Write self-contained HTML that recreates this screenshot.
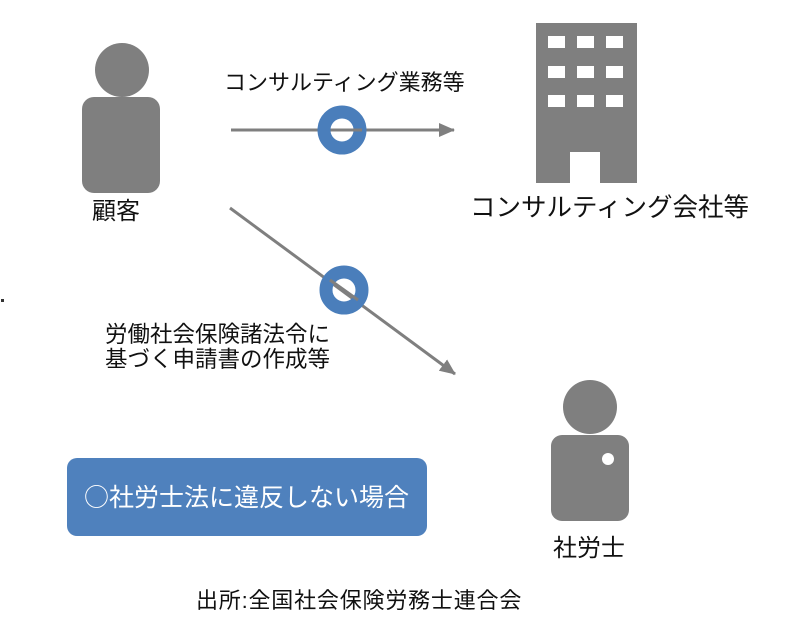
<!DOCTYPE html>
<html><head><meta charset="utf-8"><style>
html,body{margin:0;padding:0;background:#fff;}
body{width:801px;height:628px;position:relative;overflow:hidden;font-family:"Liberation Sans","Noto Sans CJK JP",sans-serif;color:#111;}
.t{position:absolute;white-space:nowrap;line-height:1;}
</style></head><body>
<svg width="801" height="628" style="position:absolute;left:0;top:0">
<defs>
<marker id="ah2" markerWidth="16" markerHeight="14" refX="15" refY="7" orient="auto" markerUnits="userSpaceOnUse"><path d="M0,0 L16,7 L0,14 z" fill="#7f7f7f"/></marker></defs>
<circle cx="122" cy="70" r="27" fill="#7f7f7f"/>
<rect x="82" y="97" width="78" height="96" rx="12" fill="#7f7f7f"/>
<circle cx="590" cy="407" r="27" fill="#7f7f7f"/>
<rect x="551" y="435" width="78" height="86" rx="11" fill="#7f7f7f"/>
<circle cx="608" cy="459" r="6" fill="#fff"/>
<rect x="536" y="23" width="101" height="160" fill="#7f7f7f"/>
<g fill="#fff">
<rect x="548" y="36" width="17" height="12"/><rect x="577" y="36" width="17" height="12"/><rect x="606" y="36" width="17" height="12"/>
<rect x="548" y="66" width="17" height="12"/><rect x="577" y="66" width="17" height="12"/><rect x="606" y="66" width="17" height="12"/>
<rect x="548" y="95" width="17" height="12"/><rect x="577" y="95" width="17" height="12"/><rect x="606" y="95" width="17" height="12"/>
<rect x="570" y="152" width="30" height="31"/>
</g>
<line x1="231" y1="130" x2="454" y2="130" stroke="#7f7f7f" stroke-width="3" marker-end="url(#ah2)"/>
<circle cx="342" cy="130" r="18" fill="none" stroke="#4a7ebb" stroke-width="13"/>
<line x1="334" y1="130" x2="362" y2="130" stroke="#7f7f7f" stroke-width="3"/>
<line x1="230" y1="208" x2="455" y2="374" stroke="#7f7f7f" stroke-width="3" marker-end="url(#ah2)"/>
<circle cx="344" cy="290" r="18" fill="none" stroke="#4a7ebb" stroke-width="13"/>
<line x1="330" y1="280" x2="358" y2="300" stroke="#7f7f7f" stroke-width="3"/>
<rect x="1" y="299" width="3" height="3" fill="#333"/>
<rect x="67" y="458" width="360" height="78" rx="10" fill="#4f81bd"/>
</svg>
<div class="t" style="left:224px;top:72px;font-size:22px;">コンサルティング業務等</div>
<div class="t" style="left:92px;top:200px;font-size:24px;">顧客</div>
<div class="t" style="left:470px;top:196px;font-size:25.5px;">コンサルティング会社等</div>
<div class="t" style="left:105px;top:322px;font-size:22.5px;line-height:25px;">労働社会保険諸法令に<br>基づく申請書の作成等</div>
<div class="t" style="left:553px;top:537px;font-size:24px;">社労士</div>
<div class="t" style="left:84px;top:484px;font-size:25px;color:#fff;font-family:'Noto Sans CJK JP',sans-serif;">○社労士法に違反しない場合</div>
<div class="t" style="left:196px;top:590px;font-size:22px;letter-spacing:0.8px;">出所:全国社会保険労務士連合会</div>
</body></html>
